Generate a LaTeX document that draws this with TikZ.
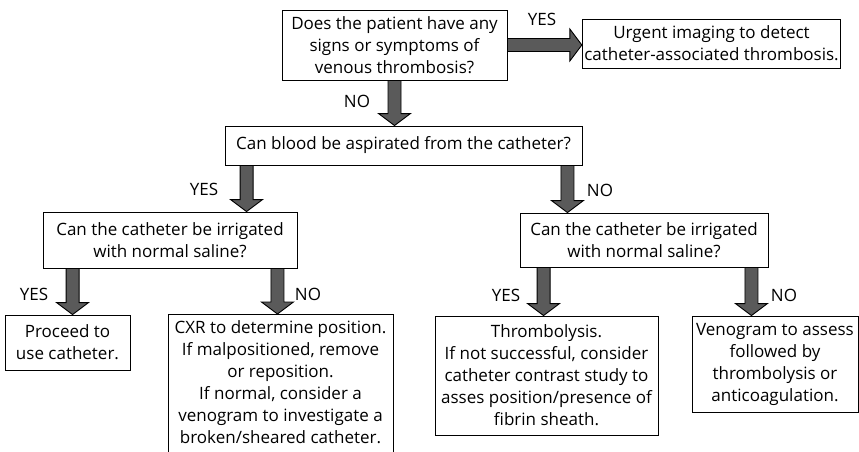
\documentclass[tikz,border=0pt]{standalone}
\usepackage{fontspec}
\setmainfont{Open Sans}
\usepackage{xcolor}
\usetikzlibrary{
  calc,
  positioning
}
\definecolor{arrowgray}{RGB}{90,90,90}
\tikzset{
  qbox/.style={
    draw=black,
    line width=0.9pt,
    fill=white,
    inner sep=2pt,
    align=center,
    font=\fontsize{17}{22}\selectfont,
  },
  fatarrow/.style={
    draw=black,
    fill=arrowgray,
    line width=0.9pt,
    line join=miter,
  },
  lbl/.style={
    font=\fontsize{17}{22}\selectfont,
    inner sep=0pt,
  },
}
% block arrow pointing down: x from #1, from #2 to #3
\newcommand{\fatdown}[3]{%
  \draw[fatarrow] let \p1=(#1), \p2=(#2), \p3=(#3) in
    (\x1-6.5pt,\y2) -- (\x1-6.5pt,\y3+12pt) -- (\x1-16pt,\y3+12pt) -- (\x1,\y3)
    -- (\x1+16pt,\y3+12pt) -- (\x1+6.5pt,\y3+12pt) -- (\x1+6.5pt,\y2) -- cycle;}
% block arrow pointing right: from #1 to #2
\newcommand{\fatright}[2]{%
  \draw[fatarrow] let \p1=(#1), \p2=(#2) in
    (\x1,\y1-6.5pt) -- (\x2-12pt,\y1-6.5pt) -- (\x2-12pt,\y1-16pt) -- (\x2,\y1)
    -- (\x2-12pt,\y1+16pt) -- (\x2-12pt,\y1+6.5pt) -- (\x1,\y1+6.5pt) -- cycle;}

\begin{document}
\begin{tikzpicture}[x=1pt, y=-1pt]
  \useasboundingbox (0,0) rectangle (859,451);

  % Row 1 — first question
  \node[qbox, minimum width=225pt, minimum height=70pt] (signs) at (394.5,45) {Does the patient have any\\signs or symptoms of\\venous thrombosis?};
  \node[qbox, minimum width=257pt, minimum height=49pt] (urgent) at (711.5,43.5) {Urgent imaging to detect\\catheter-associated thrombosis.};

  \fatright{signs.east}{urgent.west}
  \node[lbl] (yes0) at (542,19) {YES};

  % Row 2 — aspiration
  \node[qbox, minimum width=357pt, minimum height=39pt] (aspirate) at (403.5,145.5) {Can blood be aspirated from the catheter?};

  \fatdown{signs.south}{signs.south}{aspirate.north}
  \node[lbl] (no0) at (357,101) {NO};

  % Row 3 — irrigation questions
  \node[qbox, minimum width=254pt, minimum height=56pt] (irrL) at (170,240) {Can the catheter be irrigated\\with normal saline?};
  \node[qbox, minimum width=248pt, minimum height=54pt] (irrR) at (644,240) {Can the catheter be irrigated\\with normal saline?};

  \fatdown{[xshift=22pt]aspirate.south west}{aspirate.south}{irrL.north}
  \fatdown{[xshift=-15pt]aspirate.south east}{aspirate.south}{irrR.north}
  \node[lbl] (yes1) at (204,189) {YES};
  \node[lbl] (no1) at (600,190) {NO};

  % Row 4 — outcomes
  \node[qbox, minimum width=125pt, minimum height=55pt] (proceed) at (67.5,342.5) {Proceed to\\use catheter.};
  \node[qbox, minimum width=225pt, anchor=north, inner ysep=6pt] (cxr) at (280.5,314) {CXR to determine position.\\If malpositioned, remove\\or reposition.\\If normal, consider a\\venogram to investigate a\\broken/sheared catheter.\\[2pt]};
  \node[qbox, minimum width=223pt, minimum height=119pt] (thromb) at (546.5,375.5) {Thrombolysis.\\If not successful, consider\\catheter contrast study to\\asses position/presence of\\fibrin sheath.};
  \node[qbox, minimum width=166pt, minimum height=96pt] (veno) at (775,364) {Venogram to assess\\followed by\\thrombolysis or\\anticoagulation.};

  \fatdown{[xshift=30pt]irrL.south west}{irrL.south}{proceed.north}
  \fatdown{[xshift=-20pt]irrL.south east}{irrL.south}{cxr.north}
  \fatdown{[xshift=24pt]irrR.south west}{irrR.south}{thromb.north}
  \fatdown{[xshift=-17pt]irrR.south east}{irrR.south}{veno.north}
  \node[lbl] (yes2) at (34,294) {YES};
  \node[lbl] (no2) at (308,294) {NO};
  \node[lbl] (yes3) at (506,295) {YES};
  \node[lbl] (no3) at (784,295) {NO};
\end{tikzpicture}
\end{document}
